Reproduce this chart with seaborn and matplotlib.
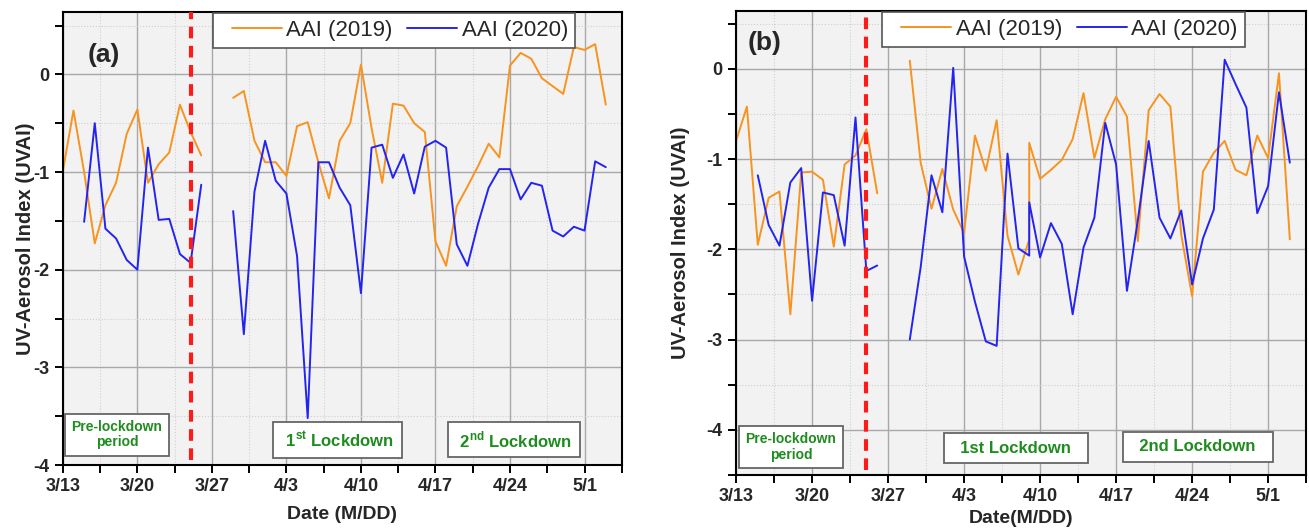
import numpy as np
import pandas as pd
import matplotlib
matplotlib.use('Agg')
import matplotlib.pyplot as plt
import matplotlib.dates as mdates
from matplotlib.ticker import MultipleLocator
from matplotlib.legend_handler import HandlerLine2D
from matplotlib.lines import Line2D
import seaborn as sns

nan = np.nan

# daily dates of the study window
dates = list(pd.date_range('2020-03-13', '2020-05-03', freq='D'))
lockdown_date = pd.Timestamp('2020-03-25')

tick_dates = pd.to_datetime(['2020-03-13', '2020-03-20', '2020-03-27', '2020-04-03',
                             '2020-04-10', '2020-04-17', '2020-04-24', '2020-05-01'])
tick_labels = ['3/13', '3/20', '3/27', '4/3', '4/10', '4/17', '4/24', '5/1']
y_ticks = [-4, -3, -2, -1, 0]

# panel (a)
aai_2019_a = [-0.99, -0.37, -1.00, -1.73, -1.34, -1.11, -0.61, -0.36, -1.11, -0.92,
              -0.80, -0.31, -0.59, -0.83, nan, nan, -0.24, -0.17, -0.68, -0.90,
              -0.90, -1.04, -0.53, -0.49, -0.90, -1.27, -0.68, -0.50, 0.10, -0.55,
              -1.11, -0.30, -0.32, -0.50, -0.59, -1.71, -1.96, -1.35, -1.15, -0.94,
              -0.71, -0.85, 0.09, 0.22, 0.16, -0.04, -0.12, -0.20, 0.28, 0.25,
              0.31, -0.31]
aai_2020_a = [nan, nan, -1.51, -0.50, -1.58, -1.68, -1.90, -2.00, -0.75, -1.49,
              -1.48, -1.84, -1.93, -1.13, nan, nan, -1.40, -2.66, -1.20, -0.68,
              -1.09, -1.22, -1.86, -3.52, -0.90, -0.90, -1.16, -1.34, -2.24, -0.75,
              -0.72, -1.06, -0.82, -1.22, -0.74, -0.68, -0.75, -1.74, -1.96, -1.53,
              -1.16, -0.97, -0.97, -1.28, -1.11, -1.14, -1.60, -1.66, -1.56, -1.60,
              -0.89, -0.95]

# panel (b): 4/9 appears twice in this record
dates_b = dates[:28] + [dates[27]] + dates[28:]
aai_2019_b = [-0.80, -0.42, -1.95, -1.43, -1.36, -2.72, -1.15, -1.14, -1.23, -1.97,
              -1.06, -0.96, -0.67, -1.38, nan, nan, 0.09, -1.04, -1.55, -1.11,
              -1.56, -1.82, -0.74, -1.13, -0.57, -1.85, -2.28, -1.89, -0.82, -1.22,
              -1.12, -1.01, -0.78, -0.27, -0.99, -0.56, -0.31, -0.53, -1.91, -0.46,
              -0.28, -0.42, -1.84, -2.52, -1.14, -0.93, -0.80, -1.12, -1.18, -0.74,
              -0.99, -0.05, -1.89]
aai_2020_b = [nan, nan, -1.18, -1.73, -1.96, -1.26, -1.10, -2.57, -1.37, -1.40,
              -1.96, -0.54, -2.24, -2.18, nan, nan, -3.00, -2.20, -1.18, -1.59,
              0.01, -2.08, -2.58, -3.02, -3.07, -0.94, -1.99, -2.07, -1.48, -2.09,
              -1.71, -1.94, -2.72, -1.98, -1.65, -0.60, -1.06, -2.46, -1.68, -0.80,
              -1.65, -1.88, -1.57, -2.39, -1.88, -1.56, 0.10, -0.17, -0.43, -1.60,
              -1.30, -0.26, -1.04]

sns.set_theme(style='ticks')
plt.rcParams['font.family'] = ['Liberation Sans', 'DejaVu Sans']
plt.rcParams['axes.unicode_minus'] = False
plt.rcParams['mathtext.fontset'] = 'custom'
plt.rcParams['mathtext.rm'] = 'Liberation Sans'
plt.rcParams['mathtext.bf'] = 'Liberation Sans:bold'

palette = {'AAI (2019)': '#f7931e', 'AAI (2020)': '#2424f0'}
green = '#1e8c1e'


def long_frame(d, v19, v20):
    df = pd.DataFrame({'date': d + d,
                       'uvai': v19 + v20,
                       'series': ['AAI (2019)'] * len(v19) + ['AAI (2020)'] * len(v20)})
    # break lines at missing days
    df['seg'] = df.groupby('series')['uvai'].transform(lambda s: s.isna().cumsum())
    return df.dropna()


def draw_panel(ax, d, v19, v20, ylo, tag, tag_xy, leg_x, xlabel, first_label,
               boxes, ylab_x, xlab_y):
    df = long_frame(d, v19, v20)
    sns.lineplot(data=df, x='date', y='uvai', hue='series', units='seg',
                 estimator=None, sort=False, palette=palette, linewidth=1.4, ax=ax)
    ax.set_facecolor('#f2f2f2')
    ax.set_xlim(dates[0], dates[-1])
    ax.set_ylim(ylo, 0.64)

    tick_num = mdates.date2num(tick_dates)
    ax.set_xticks(tick_num, tick_labels)
    ax.set_xticks(tick_num + 3.5, minor=True)
    ax.set_yticks(y_ticks, [str(t) for t in y_ticks])
    ax.yaxis.set_minor_locator(MultipleLocator(0.5))

    ax.grid(which='major', color='#a8a8a8', lw=1.0, ls='-')
    ax.grid(which='minor', color='#cfcfcf', lw=0.8, ls=':')
    ax.set_axisbelow(True)
    ax.tick_params(which='both', direction='out', length=6, width=1.4,
                   labelsize=13, color='black')
    for lbl in ax.get_xticklabels() + ax.get_yticklabels():
        lbl.set_fontweight('bold')
    for sp in ax.spines.values():
        sp.set_visible(True)
        sp.set_color('black')
        sp.set_linewidth(1.5)

    ax.axvline(lockdown_date, ymin=0.01, ymax=1, color='#ff1a1a', lw=3,
               ls=(0, (2.8, 1.8)), zorder=5)

    ax.set_xlabel(xlabel, fontsize=14, fontweight='bold')
    ax.set_ylabel('UV-Aerosol Index (UVAI)', fontsize=14.5, fontweight='bold')
    ax.yaxis.set_label_coords(ylab_x, 0.5)
    ax.xaxis.set_label_coords(0.5, xlab_y)

    ax.text(tag_xy[0], tag_xy[1], tag, transform=ax.transAxes, fontsize=19,
            fontweight='bold', va='center', ha='left')

    old = ax.get_legend()
    handles = old.legend_handles
    labels = [t.get_text() for t in old.texts]
    old.remove()
    leg = ax.legend(handles, labels, loc='upper left', bbox_to_anchor=(leg_x, 0.997),
                    ncol=2, frameon=True, fontsize=16, handlelength=2.8,
                    columnspacing=0.1, handletextpad=0.22, borderaxespad=0,
                    fancybox=False, edgecolor='#555555', framealpha=1,
                    borderpad=0.3, handler_map={Line2D: HandlerLine2D(xpad=0.55)})
    leg.get_frame().set_linewidth(1.2)

    box = dict(boxstyle='square,pad=0.45', fc='white', ec='#666666', lw=1.3)
    ax.text(boxes[0][0], boxes[0][1], 'Pre-lockdown\nperiod', transform=ax.transAxes,
            ha='center', va='center', multialignment='center', color=green,
            fontweight='bold', fontsize=10, bbox=box, linespacing=1.15, zorder=6)
    ax.text(boxes[1][0], boxes[1][1], first_label, transform=ax.transAxes,
            ha='center', va='center', color=green, fontweight='bold', fontsize=12,
            bbox=box, zorder=6)
    ax.text(boxes[2][0], boxes[2][1], boxes[3], transform=ax.transAxes,
            ha='center', va='center', color=green, fontweight='bold', fontsize=12,
            bbox=box, zorder=6)


fig = plt.figure(figsize=(13.09, 5.30), dpi=100)
ax_a = fig.add_axes([0.048, 0.1226, 0.427, 0.855])
ax_b = fig.add_axes([0.5623, 0.1038, 0.4355, 0.8755])

draw_panel(ax_a, dates, aai_2019_a, aai_2020_a, -4, '(a)', (0.045, 0.905), 0.268,
           'Date (M/DD)', r' 1$^{\mathbf{st}}$ Lockdown ',
           [(0.097, 0.067), (0.492, 0.055), (0.807, 0.056),
            r' 2$^{\mathbf{nd}}$ Lockdown '], -0.05, -0.09)
draw_panel(ax_b, dates_b, aai_2019_b, aai_2020_b, -4.5, '(b)', (0.021, 0.931), 0.256,
           'Date(M/DD)', '  1st Lockdown  ',
           [(0.0965, 0.061), (0.491, 0.058), (0.81, 0.061), '  2nd Lockdown  '],
           -0.081, -0.075)

fig.savefig('out.png', dpi=100)
